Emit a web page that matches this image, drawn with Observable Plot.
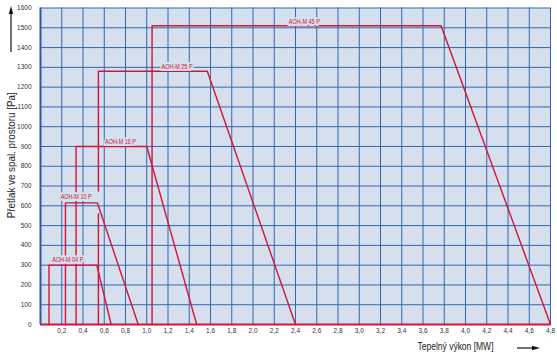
<!DOCTYPE html>
<html><head><meta charset="utf-8">
<script src="https://cdn.jsdelivr.net/npm/d3@7"></script>
<script src="https://cdn.jsdelivr.net/npm/@observablehq/plot@0.6"></script>
<style>
html,body{margin:0;padding:0;background:#fff;}
#chart svg{display:block;}
</style></head><body><div id="chart"></div>
<script>
// ---- data ----
const models = ["AOH-M 04 P", "AOH-M 10 P", "AOH-M 16 P", "AOH-M 25 P", "AOH-M 45 P"];
const minPower = [0.08, 0.235, 0.335, 0.545, 1.05];      // MW
const maxPressure = [300, 615, 900, 1280, 1510];          // Pa
const kneePower = [0.53, 0.535, 1.0, 1.57, 3.77];         // MW
const maxPower = [0.665, 0.92, 1.47, 2.4, 4.8];           // MW
const gapFrom = [null, null, null, 560, null];            // Pa, break in vertical line
const gapTo = [null, null, null, 675, null];
const labelPower = [0.257, 0.336, 0.753, 1.285, 2.483];
const labelPressure = [328, 643, 921, 1304, 1532];
const xTicks = [0.2, 0.4, 0.6, 0.8, 1.0, 1.2, 1.4, 1.6, 1.8, 2.0, 2.2, 2.4, 2.6, 2.8, 3.0, 3.2, 3.4, 3.6, 3.8, 4.0, 4.2, 4.4, 4.6, 4.8];
const xTickLabels = ["0,2","0,4","0,6","0,8","1,0","1,2","1,4","1,6","1,8","2,0","2,2","2,4","2,6","2,8","3,0","3,2","3,4","3,6","3,8","4,0","4,2","4,4","4,6","4,8"];
const yTicks = [0, 100, 200, 300, 400, 500, 600, 700, 800, 900, 1000, 1100, 1200, 1300, 1400, 1500, 1600];
const xTitle = "Tepelný výkon [MW]";
const yTitle = "Přetlak ve spal. prostoru [Pa]";

// ---- build ----
const segments = [];
models.forEach((m, i) => {
  const pts = [[minPower[i], 0], [minPower[i], maxPressure[i]], [kneePower[i], maxPressure[i]], [maxPower[i], 0]];
  if (gapFrom[i] != null) {
    segments.push({seg: m + "a", x: minPower[i], y: 0});
    segments.push({seg: m + "a", x: minPower[i], y: gapFrom[i]});
    segments.push({seg: m + "b", x: minPower[i], y: gapTo[i]});
    pts.slice(1).forEach(([x, y]) => segments.push({seg: m + "b", x, y}));
  } else {
    pts.forEach(([x, y]) => segments.push({seg: m, x, y}));
  }
});
const labels = models.map((m, i) => ({text: m, x: labelPower[i], y: labelPressure[i]}));

const FONT = "'Liberation Sans Narrow', 'Arial Narrow', 'Liberation Sans', Arial, sans-serif";
const BG = "#d5dfee", GRID = "#3266b2", RED = "#d2143a", AXIS = "#2a5aa8";

const chart = Plot.plot({
  width: 557, height: 356,
  marginLeft: 40, marginRight: 7, marginTop: 7.5, marginBottom: 32,
  x: {domain: [0, 4.8]},
  y: {domain: [0, 1600]},
  style: {fontFamily: FONT, background: "transparent", color: "#333"},
  marks: [
    Plot.frame({fill: BG, stroke: null}),
    Plot.ruleX(xTicks, {stroke: GRID, strokeWidth: 1}),
    Plot.ruleY(yTicks, {stroke: GRID, strokeWidth: 1}),
    Plot.ruleX([0], {stroke: AXIS, strokeWidth: 2}),
    Plot.ruleY([0], {stroke: RED, strokeWidth: 2}),
    Plot.line(segments, {x: "x", y: "y", z: "seg", stroke: RED, strokeWidth: 1.4}),
    Plot.text(labels, {x: "x", y: "y", text: "text", fill: RED, stroke: BG, strokeWidth: 4, fontSize: 6.5, lineAnchor: "middle", className: "mlabel"}),
    Plot.axisX({ticks: xTicks, tickFormat: d => xTickLabels[xTicks.indexOf(d)], tickSize: 0, tickPadding: 4, label: null, fontSize: 6.5}),
    Plot.axisY({ticks: yTicks, tickFormat: d => String(d), tickSize: 0, tickPadding: 9, label: null, fontSize: 6.5}),
    Plot.text([xTitle], {text: d => d, frameAnchor: "bottom-right", dx: -95, dy: 22, fontSize: 10, fill: "#222", textAnchor: "middle", lineAnchor: "middle", className: "xtitle"}),
    Plot.text([yTitle], {text: d => d, frameAnchor: "left", dx: -29, dy: -11, rotate: -90, fontSize: 10, fill: "#222", textAnchor: "middle", lineAnchor: "middle", className: "ytitle"})
  ]
});
document.getElementById("chart").appendChild(chart);

const svg = d3.select(chart);
// condense titles to the reference's narrow lettering
svg.selectAll(".xtitle text").attr("textLength", 76).attr("lengthAdjust", "spacingAndGlyphs");
svg.selectAll(".ytitle text").attr("textLength", 126).attr("lengthAdjust", "spacingAndGlyphs");
svg.selectAll(".mlabel text").attr("textLength", 31).attr("lengthAdjust", "spacingAndGlyphs");

// decorative direction arrows
svg.append("line").attr("x1", 11).attr("y1", 52).attr("x2", 11).attr("y2", 13).attr("stroke", "#111").attr("stroke-width", 1.2);
svg.append("path").attr("d", "M11,6 L8.8,14 L13.2,14 Z").attr("fill", "#111");
svg.append("line").attr("x1", 517).attr("y1", 348).attr("x2", 533).attr("y2", 348).attr("stroke", "#111").attr("stroke-width", 1.2);
svg.append("path").attr("d", "M540,348 L532,345.8 L532,350.2 Z").attr("fill", "#111");
</script>
</body></html>
